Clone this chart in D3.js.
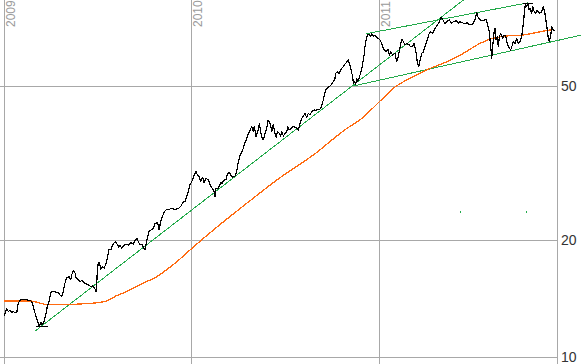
<!DOCTYPE html>
<html>
<head>
<meta charset="utf-8">
<script src="https://cdn.jsdelivr.net/npm/d3@7"></script>
<style>
  html, body { margin: 0; padding: 0; background: #fff; }
  svg { display: block; font-family: "Liberation Sans", Arial, sans-serif; }
</style>
</head>
<body>
<svg width="581" height="364"></svg>
<script>
// decimal year, close price
const price = [
  [2009.000, 12.75], [2009.014, 13.3], [2009.023, 13.1], [2009.032, 13.2], [2009.041, 13.0],
  [2009.050, 13.1], [2009.059, 13.0], [2009.068, 13.0], [2009.076, 13.75], [2009.085, 14.0],
  [2009.094, 14.1], [2009.139, 14.0], [2009.148, 13.9], [2009.156, 13.5], [2009.165, 13.0],
  [2009.174, 12.6], [2009.183, 12.2], [2009.188, 12.0], [2009.196, 12.3], [2009.204, 12.1],
  [2009.213, 12.3], [2009.222, 12.8], [2009.231, 13.5], [2009.242, 14.0], [2009.249, 14.7],
  [2009.263, 14.75], [2009.290, 14.65], [2009.299, 14.45], [2009.308, 14.3], [2009.316, 14.75],
  [2009.325, 15.5], [2009.334, 16.0], [2009.347, 16.1], [2009.356, 15.85], [2009.361, 16.3],
  [2009.370, 16.7], [2009.379, 16.45], [2009.384, 16.0], [2009.393, 15.85], [2009.405, 15.65],
  [2009.414, 15.75], [2009.432, 15.5], [2009.450, 15.35], [2009.462, 15.2], [2009.473, 15.25],
  [2009.485, 15.0], [2009.491, 14.75], [2009.494, 15.2], [2009.498, 16.8], [2009.503, 17.45],
  [2009.508, 17.5], [2009.517, 16.85], [2009.524, 17.1], [2009.535, 16.95], [2009.544, 17.45],
  [2009.551, 18.0], [2009.560, 18.9], [2009.571, 18.95], [2009.578, 19.45], [2009.588, 19.7],
  [2009.595, 19.85], [2009.606, 19.45], [2009.613, 19.2], [2009.619, 19.45], [2009.628, 19.05],
  [2009.636, 19.35], [2009.649, 19.55], [2009.663, 19.45], [2009.677, 19.7], [2009.690, 19.55],
  [2009.699, 19.95], [2009.708, 20.25], [2009.716, 19.85], [2009.725, 19.45], [2009.734, 19.55],
  [2009.747, 19.05], [2009.752, 18.95], [2009.757, 19.45], [2009.764, 20.25], [2009.773, 21.05],
  [2009.784, 21.25], [2009.796, 21.45], [2009.805, 22.1], [2009.816, 22.2], [2009.823, 21.9],
  [2009.827, 21.25], [2009.832, 21.9], [2009.841, 22.8], [2009.855, 23.7], [2009.868, 24.05],
  [2009.876, 23.95], [2009.891, 24.15], [2009.912, 24.05], [2009.930, 24.15], [2009.944, 24.5],
  [2009.956, 25.15], [2009.965, 25.15], [2009.974, 25.9], [2009.983, 26.7], [2009.992, 27.8],
  [2010.001, 28.3], [2010.010, 29.1], [2010.024, 30.05], [2010.031, 29.5], [2010.042, 29.1],
  [2010.049, 28.3], [2010.060, 29.1], [2010.067, 28.1], [2010.077, 28.9], [2010.090, 28.6],
  [2010.102, 27.6], [2010.113, 27.1], [2010.120, 26.7], [2010.125, 25.9], [2010.131, 27.25],
  [2010.143, 27.25], [2010.156, 28.2], [2010.164, 28.05], [2010.173, 28.6], [2010.184, 28.7],
  [2010.191, 29.65], [2010.202, 29.9], [2010.209, 29.5], [2010.220, 29.1], [2010.232, 29.3],
  [2010.241, 30.05], [2010.250, 31.9], [2010.259, 33.2], [2010.268, 33.65], [2010.276, 34.55],
  [2010.285, 35.7], [2010.294, 36.45], [2010.300, 37.4], [2010.308, 38.1], [2010.321, 39.25],
  [2010.330, 38.1], [2010.335, 39.4], [2010.344, 37.0], [2010.353, 38.1], [2010.362, 39.9],
  [2010.369, 38.1], [2010.375, 36.9], [2010.383, 36.3], [2010.392, 37.8], [2010.401, 38.9],
  [2010.408, 40.9], [2010.415, 40.3], [2010.422, 39.7], [2010.428, 38.1], [2010.436, 39.7],
  [2010.445, 37.8], [2010.451, 36.9], [2010.458, 38.1], [2010.468, 37.8], [2010.476, 37.15],
  [2010.481, 38.1], [2010.490, 37.15], [2010.499, 37.8], [2010.508, 38.1], [2010.513, 39.4],
  [2010.520, 38.5], [2010.525, 38.65], [2010.543, 39.4], [2010.561, 38.9], [2010.570, 38.5],
  [2010.579, 40.1], [2010.588, 41.3], [2010.596, 41.7], [2010.605, 42.5], [2010.614, 41.5],
  [2010.623, 42.5], [2010.632, 42.1], [2010.641, 42.95], [2010.655, 43.4], [2010.662, 43.2],
  [2010.671, 43.55], [2010.682, 43.4], [2010.691, 44.05], [2010.698, 45.1], [2010.703, 46.0],
  [2010.708, 47.4], [2010.716, 48.8], [2010.726, 49.6], [2010.739, 50.0], [2010.748, 50.6],
  [2010.756, 51.3], [2010.765, 52.3], [2010.769, 53.9], [2010.778, 54.4], [2010.787, 53.9],
  [2010.792, 54.4], [2010.801, 55.5], [2010.810, 56.1], [2010.819, 56.95], [2010.828, 57.7],
  [2010.836, 58.35], [2010.842, 57.2], [2010.849, 55.5], [2010.855, 53.9], [2010.860, 52.85],
  [2010.863, 50.8], [2010.868, 51.3], [2010.876, 50.6], [2010.881, 52.3], [2010.886, 51.3],
  [2010.893, 52.3], [2010.904, 54.4], [2010.911, 56.1], [2010.916, 58.35], [2010.922, 60.7],
  [2010.925, 63.1], [2010.931, 65.7], [2010.938, 67.7], [2010.947, 68.1], [2010.954, 67.0],
  [2010.961, 68.1], [2010.970, 67.3], [2010.979, 67.7], [2010.988, 66.75], [2010.996, 66.35],
  [2011.005, 65.7], [2011.014, 64.4], [2011.023, 62.5], [2011.037, 61.2], [2011.050, 62.2],
  [2011.055, 60.1], [2011.062, 61.2], [2011.073, 60.1], [2011.085, 60.7], [2011.094, 57.7],
  [2011.103, 59.5], [2011.116, 64.4], [2011.123, 66.0], [2011.130, 65.0], [2011.139, 63.8],
  [2011.148, 64.4], [2011.162, 63.8], [2011.169, 63.1], [2011.178, 63.1], [2011.187, 64.4],
  [2011.197, 61.2], [2011.204, 57.7], [2011.212, 56.1], [2011.219, 58.35], [2011.228, 60.7],
  [2011.236, 61.2], [2011.254, 65.0], [2011.268, 68.4], [2011.276, 69.0], [2011.286, 68.4],
  [2011.299, 70.4], [2011.311, 71.8], [2011.322, 73.25], [2011.331, 75.2], [2011.340, 74.3],
  [2011.352, 72.25], [2011.361, 73.25], [2011.375, 74.0], [2011.388, 72.5], [2011.396, 73.25],
  [2011.411, 73.7], [2011.423, 72.5], [2011.432, 73.25], [2011.446, 72.8], [2011.459, 72.25],
  [2011.471, 72.8], [2011.485, 71.8], [2011.500, 72.25], [2011.512, 74.0], [2011.521, 77.3],
  [2011.530, 74.8], [2011.542, 74.0], [2011.556, 73.7], [2011.571, 74.3], [2011.578, 72.5],
  [2011.588, 69.0], [2011.596, 63.1], [2011.601, 58.9], [2011.606, 63.1], [2011.613, 68.4],
  [2011.619, 70.4], [2011.624, 65.7], [2011.631, 67.0], [2011.636, 63.1], [2011.642, 67.0],
  [2011.649, 68.4], [2011.660, 66.35], [2011.667, 67.7], [2011.677, 67.0], [2011.684, 64.4],
  [2011.692, 63.1], [2011.702, 61.9], [2011.708, 63.1], [2011.716, 65.0], [2011.725, 64.4],
  [2011.734, 66.35], [2011.743, 64.4], [2011.752, 65.0], [2011.761, 67.0], [2011.770, 72.5],
  [2011.775, 77.0], [2011.780, 80.9], [2011.788, 80.1], [2011.793, 81.7], [2011.800, 78.5],
  [2011.805, 79.3], [2011.814, 77.0], [2011.820, 80.1], [2011.828, 77.7], [2011.837, 77.0],
  [2011.844, 78.5], [2011.855, 77.0], [2011.868, 77.7], [2011.876, 80.1], [2011.885, 77.0],
  [2011.894, 71.8], [2011.903, 66.35], [2011.908, 65.0], [2011.916, 67.7], [2011.921, 71.2],
  [2011.930, 69.7], [2011.935, 69.4]
];

// moving average
const movingAvg = [
  [2009.000, 13.95], [2009.139, 13.95], [2009.174, 13.85], [2009.210, 13.7], [2009.236, 13.65],
  [2009.334, 13.65], [2009.405, 13.7], [2009.494, 13.8], [2009.548, 13.95], [2009.601, 14.4],
  [2009.654, 14.75], [2009.708, 15.2], [2009.761, 15.65], [2009.814, 16.1], [2009.868, 16.8],
  [2009.921, 17.6], [2010.001, 19.05], [2010.116, 21.25], [2010.294, 24.9], [2010.472, 29.0],
  [2010.650, 33.2], [2010.828, 38.85], [2010.899, 40.9], [2011.005, 45.7], [2011.076, 49.3],
  [2011.183, 52.85], [2011.272, 55.5], [2011.361, 57.7], [2011.450, 60.7], [2011.539, 64.4],
  [2011.592, 66.0], [2011.681, 67.3], [2011.770, 67.7], [2011.859, 69.0], [2011.930, 70.0]
];

// trend lines: start and end points
const trendLines = [
  [[2009.165, 11.66], [2011.450, 83.3]],
  [[2010.931, 68.2], [2011.797, 82.0]],
  [[2010.863, 50.0], [2012.077, 67.6]]
];

const greenMarks = [[2011.437, 23.7], [2011.785, 23.6]];

const yearTicks = [2009, 2010, 2011];
const priceTicks = [10, 20, 50];

const svg = d3.select("svg");
const width = 581;
const height = 364;
const axisX = 557;

const x = d3.scaleLinear().domain([2009, 2011]).range([4, 379]);
const y = d3.scaleLog().domain([10, 50]).range([357, 86]);

const grid = svg.append("g").attr("shape-rendering", "crispEdges");

grid.selectAll("line.v")
  .data(yearTicks)
  .enter()
  .append("line")
  .attr("class", "v")
  .attr("x1", d => x(d)).attr("x2", d => x(d))
  .attr("y1", 0).attr("y2", height)
  .attr("stroke", "#a8a8a8");

grid.selectAll("line.h")
  .data(priceTicks)
  .enter()
  .append("line")
  .attr("class", "h")
  .attr("x1", 0).attr("x2", axisX)
  .attr("y1", d => y(d)).attr("y2", d => y(d))
  .attr("stroke", "#a8a8a8");

grid.append("line")
  .attr("x1", axisX).attr("x2", axisX)
  .attr("y1", 0).attr("y2", height)
  .attr("stroke", "#a8a8a8");

svg.selectAll("text.year")
  .data(yearTicks)
  .enter()
  .append("text")
  .attr("class", "year")
  .attr("transform", d => `translate(${x(d) + 10.5},27) rotate(-90)`)
  .attr("font-size", 12)
  .attr("fill", "#9a9a9a")
  .text(d => d);

svg.selectAll("text.price")
  .data(priceTicks)
  .enter()
  .append("text")
  .attr("class", "price")
  .attr("x", axisX + 4)
  .attr("y", d => y(d))
  .attr("dy", "0.36em")
  .attr("font-size", 14)
  .attr("fill", "#333")
  .text(d => d);

const line = d3.line().x(d => x(d[0])).y(d => y(d[1]));

// the original is drawn without anti-aliasing
const plot = svg.append("g").attr("shape-rendering", "crispEdges");

plot.append("g")
  .selectAll("path")
  .data(trendLines)
  .enter()
  .append("path")
  .attr("d", line)
  .attr("fill", "none")
  .attr("stroke", "#22aa4a")
  .attr("stroke-width", 1);

plot.selectAll("line.mark")
  .data(greenMarks)
  .enter()
  .append("line")
  .attr("class", "mark")
  .attr("x1", d => x(d[0])).attr("x2", d => x(d[0]))
  .attr("y1", d => y(d[1]) - 1).attr("y2", d => y(d[1]) + 1)
  .attr("stroke", "#22aa4a");

plot.append("path")
  .datum(movingAvg)
  .attr("d", line.curve(d3.curveMonotoneX))
  .attr("fill", "none")
  .attr("stroke", "#ff6a10")
  .attr("stroke-width", 1.3);

line.curve(d3.curveLinear);

plot.append("path")
  .datum(price)
  .attr("d", line)
  .attr("fill", "none")
  .attr("stroke", "#000")
  .attr("stroke-width", 1.2)
  .attr("stroke-linejoin", "round");

// low / high markers
const low = d3.least(price, d => d[1]);
const high = d3.greatest(price, d => d[1]);

plot.selectAll("line.extreme")
  .data([[low, -3, 9], [high, -5, 5]])
  .enter()
  .append("line")
  .attr("class", "extreme")
  .attr("x1", d => x(d[0][0]) + d[1])
  .attr("x2", d => x(d[0][0]) + d[2])
  .attr("y1", d => y(d[0][1]))
  .attr("y2", d => y(d[0][1]))
  .attr("stroke", "#000")
  .attr("stroke-width", 1.2);
</script>
</body>
</html>
